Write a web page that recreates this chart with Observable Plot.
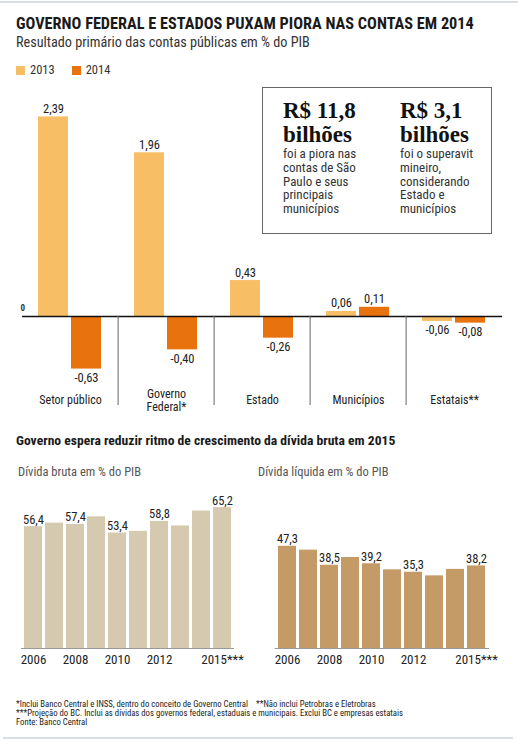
<!DOCTYPE html>
<html><head><meta charset="utf-8">
<script src="https://cdn.jsdelivr.net/npm/d3@7"></script>
<script src="https://cdn.jsdelivr.net/npm/@observablehq/plot@0.6"></script>
<style>
  body { margin: 0; background: #fff; }
  #page { position: relative; width: 518px; height: 742px; overflow: hidden; background: #fff;
    font-family: 'Liberation Sans Narrow', 'Roboto Condensed', 'DejaVu Sans Condensed', Roboto, sans-serif; color: #1a1a1a; }
  .abs { position: absolute; white-space: nowrap; }
  .title { left: 16px; top: 18px; font-size: 16.3px; line-height: 11px; font-weight: bold; }
  .subtitle { left: 16px; top: 35.7px; font-size: 14.2px; line-height: 13px; color: #333; }
  .legend { top: 63px; font-size: 12.5px; line-height: 13px; color: #333; }
  .sw { display: inline-block; width: 9px; height: 9px; vertical-align: -1px; margin-right: 5px; }
  .box { left: 262px; top: 87px; width: 228px; height: 145px; border: 1.5px solid #666; }
  .big { font-family: 'Liberation Serif', 'DejaVu Serif', serif; font-weight: bold; font-size: 23px; line-height: 24px; color: #111; }
  .body { font-size: 13px; line-height: 13.8px; color: #333; }
  .sec { left: 16px; top: 433px; font-size: 13.6px; line-height: 14px; font-weight: bold; }
  .sub2 { top: 465px; font-size: 12.5px; line-height: 13px; color: #555; }
  .notes { left: 16px; top: 700px; font-size: 8.7px; line-height: 9px; color: #222; }
  .rule { position: absolute; background: #d6dfe2; height: 2px; }
</style></head>
<body><div id="page">
  <div class="rule" style="left:0;top:1px;width:518px;"></div>
  <div class="abs title">GOVERNO FEDERAL E ESTADOS PUXAM PIORA NAS CONTAS EM 2014</div>
  <div class="abs subtitle">Resultado primário das contas públicas em % do PIB</div>
  <div class="abs legend" id="legend" style="left:16px"></div>
  <div class="abs box"></div>
  <div class="abs" style="left:283px;top:99px;">
    <div class="big">R$ 11,8<br>bilhões</div>
    <div class="body">foi a piora nas<br>contas de São<br>Paulo e seus<br>principais<br>municípios</div>
  </div>
  <div class="abs" style="left:400px;top:99px;">
    <div class="big">R$ 3,1<br>bilhões</div>
    <div class="body">foi o superavit<br>mineiro,<br>considerando<br>Estado e<br>municípios</div>
  </div>
  <div class="abs" id="top" style="left:0;top:84px;"></div>
  <div class="abs sec">Governo espera reduzir ritmo de crescimento da dívida bruta em 2015</div>
  <div class="abs sub2" style="left:18px">Dívida bruta em % do PIB</div>
  <div class="abs sub2" style="left:258px">Dívida líquida em % do PIB</div>
  <div class="abs" id="gross" style="left:0;top:490px;"></div>
  <div class="abs" id="net" style="left:259px;top:490px;"></div>
  <div class="abs notes">*Inclui Banco Central e INSS, dentro do conceito de Governo Central &nbsp;&nbsp;&nbsp;**Não inclui Petrobras e Eletrobras<br>***Projeção do BC. Inclui as dívidas dos governos federal, estaduais e municipais. Exclui BC e empresas estatais<br>Fonte: Banco Central</div>
  <div class="rule" style="left:3px;top:737px;width:510px;"></div>
</div>
<script>
// ---- data ----
const categories = ["Setor público", "Governo Federal*", "Estado", "Municípios", "Estatais**"];
const categoryLabels = ["Setor público", "Governo\nFederal*", "Estado", "Municípios", "Estatais**"];
const years = [2013, 2014];
const yearColors = ["#f7be66", "#e8730e"];
const values2013 = [2.39, 1.96, 0.43, 0.06, -0.06];
const values2014 = [-0.63, -0.40, -0.26, 0.11, -0.08];

const debtYears = [2006, 2007, 2008, 2009, 2010, 2011, 2012, 2013, 2014, 2015];
const grossDebt = [56.4, 58.0, 57.4, 60.9, 53.4, 54.2, 58.8, 56.7, 63.6, 65.2];
const netDebt = [47.3, 45.5, 38.5, 42.1, 39.2, 36.4, 35.3, 33.6, 36.6, 38.2];
const labeledYears = [2006, 2008, 2010, 2012, 2015];
const debtTickLabels = ["2006", "2008", "2010", "2012", "2015***"];

const SANS = "'Liberation Sans Narrow','Roboto Condensed','DejaVu Sans Condensed',Roboto,sans-serif";

// legend
document.getElementById("legend").innerHTML = years.map((y, i) =>
  `<span style="margin-right:17px"><span class="sw" style="background:${yearColors[i]}"></span>${y}</span>`).join("");

// ---- top chart ----
const topData = [];
categories.forEach((c, i) => {
  topData.push({cat: c, label: categoryLabels[i], year: 2013, value: values2013[i]});
  topData.push({cat: c, label: categoryLabels[i], year: 2014, value: values2014[i]});
});
const fmt2 = v => (v < 0 ? "-" : "") + Math.abs(v).toFixed(2).replace(".", ",");

const topChart = Plot.plot({
  width: 518, height: 330,
  marginLeft: 20, marginRight: 15, marginTop: 0, marginBottom: 0,
  style: {fontFamily: SANS, fontSize: "12.5px", color: "#222", background: "transparent", overflow: "visible"},
  fx: {domain: categories, paddingInner: 0, paddingOuter: 0, axis: null, label: null},
  x: {domain: years, paddingInner: 0.088, paddingOuter: 0.47, axis: null},
  y: {domain: [-1.174, 2.778], axis: null},
  color: {type: "ordinal", domain: years, range: yearColors},
  marks: [
    Plot.barY(topData, {fx: "cat", x: "year", y: "value", fill: "year"}),
    Plot.ruleY([0], {stroke: "#111", strokeWidth: 1.6}),
    Plot.ruleX(categories.slice(1), {fx: d => d, x: () => 2013, y1: 0, y2: -1.066, dx: -31.4, stroke: "#666", strokeWidth: 1}),
    Plot.text(topData, {filter: d => d.value >= 0, fx: "cat", x: "year", y: "value", text: d => fmt2(d.value), lineAnchor: "bottom", dy: -4, fill: "#222"}),
    Plot.text(topData, {filter: d => d.value < 0, fx: "cat", x: "year", y: "value", text: d => fmt2(d.value), lineAnchor: "top", dy: 4, fill: "#222"}),
    Plot.text(topData, {filter: d => d.year === 2013, fx: "cat", y: () => -1.0, text: "label", lineAnchor: "middle", lineHeight: 1.1, fill: "#222", fontSize: 12}),
    Plot.text(["0"], {fx: () => categories[0], y: () => 0, frameAnchor: "left", text: d => d, dx: -2, dy: -8, fontSize: 9, fontWeight: "bold", fill: "#333"})
  ]
});
document.getElementById("top").appendChild(topChart);

// ---- debt charts ----
function debtChart(values, color, mL, mR) {
  const data = debtYears.map((y, i) => ({year: y, value: values[i]}));
  return Plot.plot({
    width: 259, height: 185,
    marginLeft: mL, marginRight: mR, marginTop: 0, marginBottom: 27,
    style: {fontFamily: SANS, fontSize: "13px", color: "#222", background: "transparent", overflow: "visible"},
    x: {domain: debtYears, paddingInner: 0.138, paddingOuter: 0, ticks: labeledYears,
        tickFormat: y => debtTickLabels[labeledYears.indexOf(y)], tickSize: 0, tickPadding: 6, label: null},
    y: {domain: [0, 73.1], axis: null},
    marks: [
      Plot.ruleY([0], {stroke: "#999", strokeWidth: 1}),
      Plot.barY(data, {x: "year", y: "value", fill: color}),
      Plot.text(data.filter(d => labeledYears.includes(d.year)), {x: "year", y: "value",
        text: d => d.value.toFixed(1).replace(".", ","), lineAnchor: "bottom", dy: -3, fill: "#222", fontSize: 12.5})
    ]
  });
}
document.getElementById("gross").appendChild(debtChart(grossDebt, "#d5c9b0", 21, 25));
document.getElementById("net").appendChild(debtChart(netDebt, "#c49a66", 15.7, 29));
</script>
</body></html>
